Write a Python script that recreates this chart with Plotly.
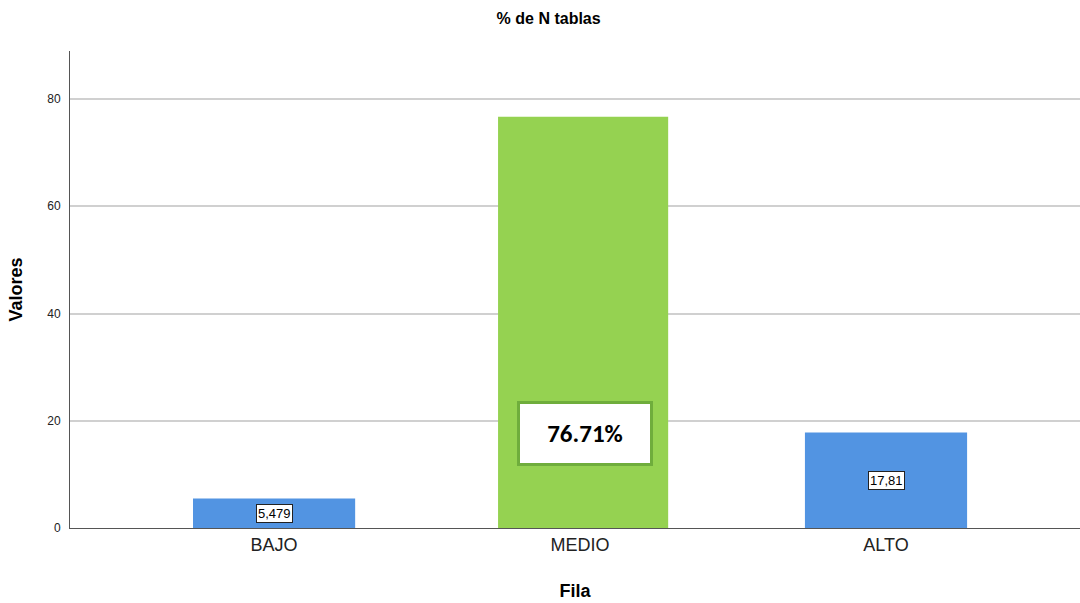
import plotly.graph_objects as go

# Porcentaje de N tablas por categoría de fila
categorias = ["BAJO", "MEDIO", "ALTO"]
valores = [5.479, 76.71, 17.81]
etiquetas = ["5,479", "76.71%", "17,81"]
colores = ["#5294E2", "#95D251", "#5294E2"]
anchos = [0.53, 0.556, 0.53]
desplazamientos = [-0.265, -0.268, -0.265]

fig = go.Figure()
fig.add_trace(go.Bar(
    x=categorias,
    y=valores,
    width=anchos,
    offset=desplazamientos,
    marker=dict(color=colores, line=dict(width=0)),
    hoverinfo="skip",
    showlegend=False,
))

# Etiquetas de valor con recuadro
for cat, val, txt in zip(categorias, valores, etiquetas):
    if cat == "MEDIO":
        fig.add_annotation(
            x=cat, y=17.7, text="<b>" + txt + "</b>", showarrow=False,
            font=dict(family="Carlito, Liberation Sans, Arial", size=25, color="#000000"),
            bgcolor="#FFFFFF", bordercolor="#6FAD3C", borderwidth=3,
            borderpad=14, width=102, xshift=5,
        )
    else:
        fig.add_annotation(
            x=cat, y=val / 2, text=txt, showarrow=False,
            font=dict(family="Liberation Sans, Arial", size=13, color="#000000"),
            bgcolor="#FFFFFF", bordercolor="#222222", borderwidth=1,
            borderpad=1,
        )

fig.update_layout(
    width=1080, height=603,
    margin=dict(l=70, r=0, t=51, b=75),
    paper_bgcolor="#FFFFFF",
    plot_bgcolor="#FFFFFF",
    title=dict(
        text="<b>% de N tablas</b>", x=0.508, xanchor="center",
        y=0.97, yanchor="middle",
        font=dict(family="Liberation Sans, Arial", size=16, color="#000000"),
    ),
    xaxis=dict(
        range=[-0.667, 2.634],
        showgrid=False,
        showline=True, linecolor="#555555", linewidth=1,
        ticks="", tickfont=dict(family="Liberation Sans, Arial", size=18, color="#222222"),
        title=dict(text="<b>Fila</b>", standoff=30,
                   font=dict(family="Liberation Sans, Arial", size=18, color="#000000")),
    ),
    yaxis=dict(
        range=[0, 88.95],
        tickvals=[0, 20, 40, 60, 80],
        showgrid=True, gridcolor="#D0D0D0", gridwidth=2,
        showline=True, linecolor="#555555", linewidth=1,
        zeroline=False,
        ticks="", ticklabelstandoff=6,
        tickfont=dict(family="Liberation Sans, Arial", size=12, color="#222222"),
        title=dict(text="<b>Valores</b>", standoff=19,
                   font=dict(family="Liberation Sans, Arial", size=18, color="#000000")),
    ),
)

fig.write_html("out.html")
